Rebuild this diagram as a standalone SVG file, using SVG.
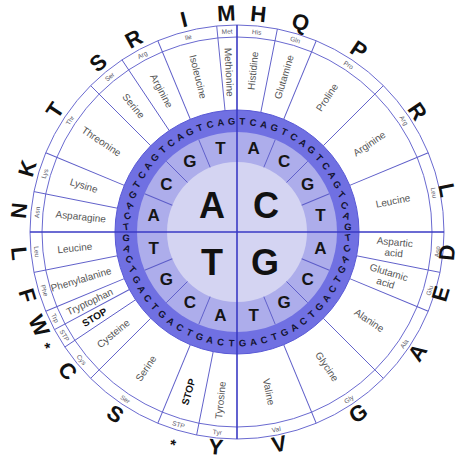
<svg xmlns="http://www.w3.org/2000/svg" width="459" height="459" viewBox="0 0 459 459">
<style>
text{font-family:"Liberation Sans",Arial,sans-serif;text-anchor:middle;dominant-baseline:central}
.ln{stroke:#5c5cc8;stroke-width:0.9;fill:none}
.ring{stroke:#6a6ad0;stroke-width:1;fill:none}
.main{stroke:#3a3ac4;stroke-width:1.6}
.c{font-size:36px;font-weight:bold;fill:#111}
.m{font-size:17px;font-weight:bold;fill:#151515}
.d{font-size:9.5px;font-weight:bold;fill:#141430}
.aa{font-size:10px;fill:#555555}
.stop{font-size:10px;font-weight:bold;fill:#111}
.ab{font-size:6.5px;fill:#5a5a6a}
.big{font-size:22px;font-weight:bold;fill:#111}
</style>
<rect width="459" height="459" fill="#ffffff"/>
<g id="wheel-fill">
<circle cx="237" cy="232" r="122" fill="#7070e2" stroke="#5a5ad6" stroke-width="1"/>
<circle cx="237" cy="232" r="100" fill="#adadeb"/>
<circle cx="237" cy="232" r="70" fill="#d4d4f2"/>
<circle class="ring" cx="237" cy="232" r="195"/>
<circle class="ring" cx="237" cy="232" r="207"/>
</g>
<g id="connectors">
<g class="ln">
<line x1="237" y1="162" x2="237" y2="132" transform="rotate(22.5 237 232)"/>
<line x1="237" y1="162" x2="237" y2="132" transform="rotate(45 237 232)"/>
<line x1="237" y1="162" x2="237" y2="132" transform="rotate(67.5 237 232)"/>
<line x1="237" y1="162" x2="237" y2="132" transform="rotate(112.5 237 232)"/>
<line x1="237" y1="162" x2="237" y2="132" transform="rotate(135 237 232)"/>
<line x1="237" y1="162" x2="237" y2="132" transform="rotate(157.5 237 232)"/>
<line x1="237" y1="162" x2="237" y2="132" transform="rotate(202.5 237 232)"/>
<line x1="237" y1="162" x2="237" y2="132" transform="rotate(225 237 232)"/>
<line x1="237" y1="162" x2="237" y2="132" transform="rotate(247.5 237 232)"/>
<line x1="237" y1="162" x2="237" y2="132" transform="rotate(292.5 237 232)"/>
<line x1="237" y1="162" x2="237" y2="132" transform="rotate(315 237 232)"/>
<line x1="237" y1="162" x2="237" y2="132" transform="rotate(337.5 237 232)"/>
<line x1="237" y1="110" x2="237" y2="25" transform="rotate(11.25 237 232)"/>
<line x1="237" y1="110" x2="237" y2="25" transform="rotate(22.5 237 232)"/>
<line x1="237" y1="110" x2="237" y2="25" transform="rotate(45 237 232)"/>
<line x1="237" y1="110" x2="237" y2="25" transform="rotate(67.5 237 232)"/>
<line x1="237" y1="110" x2="237" y2="25" transform="rotate(101.25 237 232)"/>
<line x1="237" y1="110" x2="237" y2="25" transform="rotate(112.5 237 232)"/>
<line x1="237" y1="110" x2="237" y2="25" transform="rotate(135 237 232)"/>
<line x1="237" y1="110" x2="237" y2="25" transform="rotate(157.5 237 232)"/>
<line x1="237" y1="110" x2="237" y2="25" transform="rotate(191.25 237 232)"/>
<line x1="237" y1="110" x2="237" y2="25" transform="rotate(202.5 237 232)"/>
<line x1="237" y1="110" x2="237" y2="25" transform="rotate(225 237 232)"/>
<line x1="237" y1="110" x2="237" y2="25" transform="rotate(236.25 237 232)"/>
<line x1="237" y1="110" x2="237" y2="25" transform="rotate(241.875 237 232)"/>
<line x1="237" y1="110" x2="237" y2="25" transform="rotate(247.5 237 232)"/>
<line x1="237" y1="110" x2="237" y2="25" transform="rotate(258.75 237 232)"/>
<line x1="237" y1="110" x2="237" y2="25" transform="rotate(281.25 237 232)"/>
<line x1="237" y1="110" x2="237" y2="25" transform="rotate(292.5 237 232)"/>
<line x1="237" y1="110" x2="237" y2="25" transform="rotate(315 237 232)"/>
<line x1="237" y1="110" x2="237" y2="25" transform="rotate(326.25 237 232)"/>
<line x1="237" y1="110" x2="237" y2="25" transform="rotate(337.5 237 232)"/>
<line x1="237" y1="110" x2="237" y2="25" transform="rotate(354.375 237 232)"/>
</g>
<line class="main" x1="30" y1="232" x2="444" y2="232"/>
<line class="main" x1="237" y1="25" x2="237" y2="439"/>
</g>
<g id="first-letters">
<text class="c" x="212" y="205">A</text>
<text class="c" x="266" y="205">C</text>
<text class="c" x="212" y="262">T</text>
<text class="c" x="265" y="262">G</text>
</g>
<g id="second-letters">
<text class="m" x="253.6" y="148.6">A</text>
<text class="m" x="284.2" y="161.3">C</text>
<text class="m" x="307.7" y="184.8">G</text>
<text class="m" x="320.4" y="215.4">T</text>
<text class="m" x="320.4" y="248.6">A</text>
<text class="m" x="307.7" y="279.2">C</text>
<text class="m" x="284.2" y="302.7">G</text>
<text class="m" x="253.6" y="315.4">T</text>
<text class="m" x="220.4" y="315.4">A</text>
<text class="m" x="189.8" y="302.7">C</text>
<text class="m" x="166.3" y="279.2">G</text>
<text class="m" x="153.6" y="248.6">T</text>
<text class="m" x="153.6" y="215.4">A</text>
<text class="m" x="166.3" y="184.8">C</text>
<text class="m" x="189.8" y="161.3">G</text>
<text class="m" x="220.4" y="148.6">T</text>
</g>
<g id="third-letters" class="d">
<text class="d" transform="rotate(2.8125 237 232) translate(237 121)">T</text>
<text class="d" transform="rotate(8.4375 237 232) translate(237 121)">C</text>
<text class="d" transform="rotate(14.0625 237 232) translate(237 121)">A</text>
<text class="d" transform="rotate(19.6875 237 232) translate(237 121)">G</text>
<text class="d" transform="rotate(25.3125 237 232) translate(237 121)">T</text>
<text class="d" transform="rotate(30.9375 237 232) translate(237 121)">C</text>
<text class="d" transform="rotate(36.5625 237 232) translate(237 121)">A</text>
<text class="d" transform="rotate(42.1875 237 232) translate(237 121)">G</text>
<text class="d" transform="rotate(47.8125 237 232) translate(237 121)">T</text>
<text class="d" transform="rotate(53.4375 237 232) translate(237 121)">C</text>
<text class="d" transform="rotate(59.0625 237 232) translate(237 121)">A</text>
<text class="d" transform="rotate(64.6875 237 232) translate(237 121) rotate(-10.11)">G</text>
<text class="d" transform="rotate(70.3125 237 232) translate(237 121) rotate(-24.16)">T</text>
<text class="d" transform="rotate(75.9375 237 232) translate(237 121) rotate(-40.35)">C</text>
<text class="d" transform="rotate(81.5625 237 232) translate(237 121) rotate(-58.62)">A</text>
<text class="d" transform="rotate(87.1875 237 232) translate(237 121) rotate(-79.02)">G</text>
<text class="d" transform="rotate(-87.1875 237 232) translate(237 121) rotate(79.02)">T</text>
<text class="d" transform="rotate(-81.5625 237 232) translate(237 121) rotate(58.62)">C</text>
<text class="d" transform="rotate(-75.9375 237 232) translate(237 121) rotate(40.35)">A</text>
<text class="d" transform="rotate(-70.3125 237 232) translate(237 121) rotate(24.16)">G</text>
<text class="d" transform="rotate(-64.6875 237 232) translate(237 121) rotate(10.11)">T</text>
<text class="d" transform="rotate(-59.0625 237 232) translate(237 121)">C</text>
<text class="d" transform="rotate(-53.4375 237 232) translate(237 121)">A</text>
<text class="d" transform="rotate(-47.8125 237 232) translate(237 121)">G</text>
<text class="d" transform="rotate(-42.1875 237 232) translate(237 121)">T</text>
<text class="d" transform="rotate(-36.5625 237 232) translate(237 121)">C</text>
<text class="d" transform="rotate(-30.9375 237 232) translate(237 121)">A</text>
<text class="d" transform="rotate(-25.3125 237 232) translate(237 121)">G</text>
<text class="d" transform="rotate(-19.6875 237 232) translate(237 121)">T</text>
<text class="d" transform="rotate(-14.0625 237 232) translate(237 121)">C</text>
<text class="d" transform="rotate(-8.4375 237 232) translate(237 121)">A</text>
<text class="d" transform="rotate(-2.8125 237 232) translate(237 121)">G</text>
<text class="d" transform="rotate(-87.1875 237 232) translate(237 343) rotate(79.02)">T</text>
<text class="d" transform="rotate(-81.5625 237 232) translate(237 343) rotate(58.62)">C</text>
<text class="d" transform="rotate(-75.9375 237 232) translate(237 343) rotate(40.35)">A</text>
<text class="d" transform="rotate(-70.3125 237 232) translate(237 343) rotate(24.16)">G</text>
<text class="d" transform="rotate(-64.6875 237 232) translate(237 343) rotate(10.11)">T</text>
<text class="d" transform="rotate(-59.0625 237 232) translate(237 343)">C</text>
<text class="d" transform="rotate(-53.4375 237 232) translate(237 343)">A</text>
<text class="d" transform="rotate(-47.8125 237 232) translate(237 343)">G</text>
<text class="d" transform="rotate(-42.1875 237 232) translate(237 343)">T</text>
<text class="d" transform="rotate(-36.5625 237 232) translate(237 343)">C</text>
<text class="d" transform="rotate(-30.9375 237 232) translate(237 343)">A</text>
<text class="d" transform="rotate(-25.3125 237 232) translate(237 343)">G</text>
<text class="d" transform="rotate(-19.6875 237 232) translate(237 343)">T</text>
<text class="d" transform="rotate(-14.0625 237 232) translate(237 343)">C</text>
<text class="d" transform="rotate(-8.4375 237 232) translate(237 343)">A</text>
<text class="d" transform="rotate(-2.8125 237 232) translate(237 343)">G</text>
<text class="d" transform="rotate(2.8125 237 232) translate(237 343)">T</text>
<text class="d" transform="rotate(8.4375 237 232) translate(237 343)">C</text>
<text class="d" transform="rotate(14.0625 237 232) translate(237 343)">A</text>
<text class="d" transform="rotate(19.6875 237 232) translate(237 343)">G</text>
<text class="d" transform="rotate(25.3125 237 232) translate(237 343)">T</text>
<text class="d" transform="rotate(30.9375 237 232) translate(237 343)">C</text>
<text class="d" transform="rotate(36.5625 237 232) translate(237 343)">A</text>
<text class="d" transform="rotate(42.1875 237 232) translate(237 343)">G</text>
<text class="d" transform="rotate(47.8125 237 232) translate(237 343)">T</text>
<text class="d" transform="rotate(53.4375 237 232) translate(237 343)">C</text>
<text class="d" transform="rotate(59.0625 237 232) translate(237 343)">A</text>
<text class="d" transform="rotate(64.6875 237 232) translate(237 343) rotate(-10.11)">G</text>
<text class="d" transform="rotate(70.3125 237 232) translate(237 343) rotate(-24.16)">T</text>
<text class="d" transform="rotate(75.9375 237 232) translate(237 343) rotate(-40.35)">C</text>
<text class="d" transform="rotate(81.5625 237 232) translate(237 343) rotate(-58.62)">A</text>
<text class="d" transform="rotate(87.1875 237 232) translate(237 343) rotate(-79.02)">G</text>
</g>
<g id="amino-names">
<text class="aa" x="399" y="232" transform="rotate(-84.375 237 232)">Histidine</text>
<text class="aa" x="399" y="232" transform="rotate(-73.125 237 232)">Glutamine</text>
<text class="aa" x="399" y="232" transform="rotate(-56.25 237 232)">Proline</text>
<text class="aa" x="396" y="232" transform="rotate(-33.75 237 232)">Arginine</text>
<text class="aa" x="396" y="232" transform="rotate(-11.25 237 232)">Leucine</text>
<text class="aa" x="395" y="226.5" transform="rotate(5.625 237 232)">Aspartic</text>
<text class="aa" x="395" y="237.5" transform="rotate(5.625 237 232)">acid</text>
<text class="aa" x="394" y="226.5" transform="rotate(16.875 237 232)">Glutamic</text>
<text class="aa" x="394" y="237.5" transform="rotate(16.875 237 232)">acid</text>
<text class="aa" x="396" y="232" transform="rotate(33.75 237 232)">Alanine</text>
<text class="aa" x="399" y="232" transform="rotate(56.25 237 232)">Glycine</text>
<text class="aa" x="400" y="232" transform="rotate(78.75 237 232)">Valine</text>
<text class="aa" x="68" y="232" transform="rotate(-84.375 237 232)">Tyrosine</text>
<text class="stop" x="70" y="232" transform="rotate(-73.125 237 232)">STOP</text>
<text class="aa" x="73" y="232" transform="rotate(-56.25 237 232)">Serine</text>
<text class="aa" x="77" y="232" transform="rotate(-39.375 237 232)">Cysteine</text>
<text class="stop" x="71" y="232" transform="rotate(-30.9375 237 232)">STOP</text>
<text class="aa" x="74" y="232" transform="rotate(-25.3125 237 232)">Tryptophan</text>
<text class="aa" x="74" y="232" transform="rotate(-16.875 237 232)">Phenylalanine</text>
<text class="aa" x="74" y="232" transform="rotate(-5.625 237 232)">Leucine</text>
<text class="aa" x="80" y="232" transform="rotate(5.625 237 232)">Asparagine</text>
<text class="aa" x="77" y="232" transform="rotate(16.875 237 232)">Lysine</text>
<text class="aa" x="74" y="232" transform="rotate(33.75 237 232)">Threonine</text>
<text class="aa" x="74" y="232" transform="rotate(50.625 237 232)">Serine</text>
<text class="aa" x="77" y="232" transform="rotate(61.875 237 232)">Arginine</text>
<text class="aa" x="77" y="232" transform="rotate(75.9375 237 232)">Isoleucine</text>
<text class="aa" x="77" y="232" transform="rotate(87.1875 237 232)">Methionine</text>
</g>
<g id="abbreviations" class="ab">
<text class="ab" x="237" y="31" transform="rotate(-2.8125 237 232)">Met</text>
<text class="ab" x="237" y="31" transform="rotate(5.625 237 232)">His</text>
<text class="ab" x="237" y="31" transform="rotate(16.875 237 232)">Gln</text>
<text class="ab" x="237" y="31" transform="rotate(33.75 237 232)">Pro</text>
<text class="ab" x="237" y="31" transform="rotate(56.25 237 232)">Arg</text>
<text class="ab" x="237" y="31" transform="rotate(78.75 237 232)">Leu</text>
<text class="ab" x="237" y="433" transform="rotate(-84.375 237 232)">Asp</text>
<text class="ab" x="237" y="433" transform="rotate(-73.125 237 232)">Glu</text>
<text class="ab" x="237" y="433" transform="rotate(-56.25 237 232)">Ala</text>
<text class="ab" x="237" y="433" transform="rotate(-33.75 237 232)">Gly</text>
<text class="ab" x="237" y="433" transform="rotate(-11.25 237 232)">Val</text>
<text class="ab" x="237" y="433" transform="rotate(5.625 237 232)">Tyr</text>
<text class="ab" x="237" y="433" transform="rotate(16.875 237 232)">STP</text>
<text class="ab" x="237" y="433" transform="rotate(33.75 237 232)">Ser</text>
<text class="ab" x="237" y="433" transform="rotate(50.625 237 232)">Cys</text>
<text class="ab" x="237" y="433" transform="rotate(59.0625 237 232)">STP</text>
<text class="ab" x="237" y="433" transform="rotate(64.6875 237 232)">Trp</text>
<text class="ab" x="237" y="433" transform="rotate(73.125 237 232)">Phe</text>
<text class="ab" x="237" y="433" transform="rotate(84.375 237 232)">Leu</text>
<text class="ab" x="237" y="31" transform="rotate(-84.375 237 232)">Asn</text>
<text class="ab" x="237" y="31" transform="rotate(-73.125 237 232)">Lys</text>
<text class="ab" x="237" y="31" transform="rotate(-56.25 237 232)">Thr</text>
<text class="ab" x="237" y="31" transform="rotate(-39.375 237 232)">Ser</text>
<text class="ab" x="237" y="31" transform="rotate(-28.125 237 232)">Arg</text>
<text class="ab" x="237" y="31" transform="rotate(-14.0625 237 232)">Ile</text>
</g>
<g id="one-letter-codes">
<text class="big" x="237" y="13" transform="rotate(-2.8125 237 232)">M</text>
<text class="big" x="237" y="13" transform="rotate(5.625 237 232)">H</text>
<text class="big" x="237" y="13" transform="rotate(16.875 237 232)">Q</text>
<text class="big" x="237" y="13" transform="rotate(33.75 237 232)">P</text>
<text class="big" x="237" y="15" transform="rotate(56.25 237 232)">R</text>
<text class="big" x="237" y="18" transform="rotate(78.75 237 232)">L</text>
<text class="big" x="237" y="443" transform="rotate(-84.375 237 232)">D</text>
<text class="big" x="237" y="445" transform="rotate(-73.125 237 232)">E</text>
<text class="big" x="237" y="449" transform="rotate(-56.25 237 232)">A</text>
<text class="big" x="237" y="450" transform="rotate(-33.75 237 232)">G</text>
<text class="big" x="237" y="448" transform="rotate(-11.25 237 232)">V</text>
<text class="big" x="237" y="448" transform="rotate(5.625 237 232)">Y</text>
<text class="big" x="237" y="454" style="font-size:15px" transform="rotate(16.875 237 232)">*</text>
<text class="big" x="237" y="451" transform="rotate(33.75 237 232)">S</text>
<text class="big" x="237" y="451" transform="rotate(50.625 237 232)">C</text>
<text class="big" x="237" y="455" style="font-size:15px" transform="rotate(59.0625 237 232)">*</text>
<text class="big" x="237" y="451" transform="rotate(64.6875 237 232)">W</text>
<text class="big" x="237" y="451" transform="rotate(73.125 237 232)">F</text>
<text class="big" x="237" y="451" transform="rotate(84.375 237 232)">L</text>
<text class="big" x="237" y="13" transform="rotate(-84.375 237 232)">N</text>
<text class="big" x="237" y="13" transform="rotate(-73.125 237 232)">K</text>
<text class="big" x="237" y="13" transform="rotate(-56.25 237 232)">T</text>
<text class="big" x="237" y="13" transform="rotate(-39.375 237 232)">S</text>
<text class="big" x="237" y="13" transform="rotate(-28.125 237 232)">R</text>
<text class="big" x="237" y="13" transform="rotate(-14.0625 237 232)">I</text>
</g>
</svg>
